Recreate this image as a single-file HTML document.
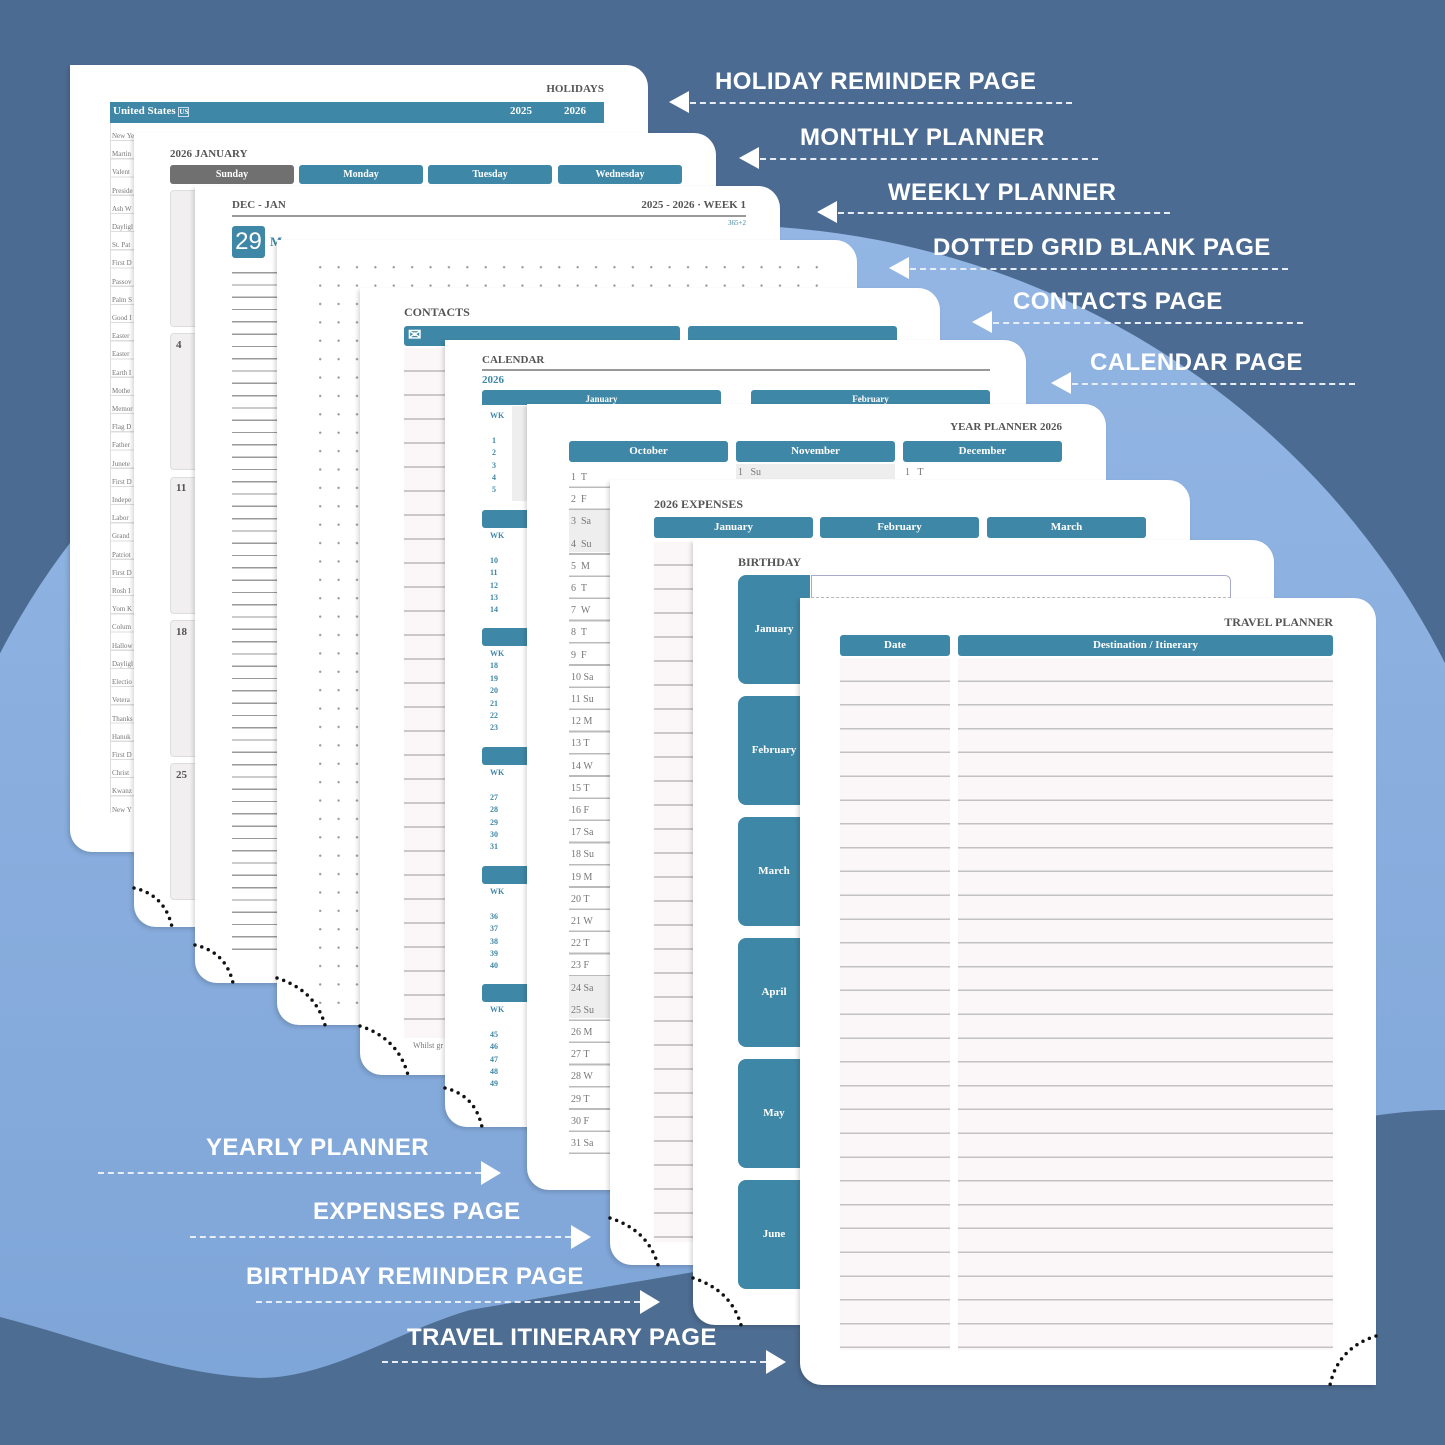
<!DOCTYPE html>
<html><head><meta charset="utf-8"><style>
*{margin:0;padding:0;box-sizing:border-box}
body{width:1445px;height:1445px;overflow:hidden;position:relative;background:#4c6b92;font-family:"Liberation Serif",serif}
.abs{position:absolute}
.pg{position:absolute;background:#fff;border-radius:0 22px 0 22px;overflow:hidden;box-shadow:-2px 2px 4px rgba(0,0,0,.15)}
.t{position:absolute;font-weight:bold;color:#555;font-size:12px;white-space:nowrap}
.bar{position:absolute;background:#3f87a6;color:#fff;font-weight:bold;font-size:10px;text-align:center;border-radius:3px;white-space:nowrap;overflow:hidden}
.lbl{position:absolute;font-family:"Liberation Sans",sans-serif;font-weight:bold;color:#fff;font-size:24px;white-space:nowrap;letter-spacing:0.4px}
.dl{position:absolute;border-top:2px dashed #e8eef8;height:0}
.arL{position:absolute;width:0;height:0;border-top:11px solid transparent;border-bottom:11px solid transparent;border-right:20px solid #fff}
.arR{position:absolute;width:0;height:0;border-top:12px solid transparent;border-bottom:12px solid transparent;border-left:20px solid #fff}
.rules{position:absolute;background:repeating-linear-gradient(to bottom,#fbf6f7 0,#fbf6f7 22px,#c9c9c9 22px,#c9c9c9 24px)}
.sm{position:absolute;font-size:8px;color:#777;white-space:nowrap}
</style></head><body>
<svg class="abs" style="left:0;top:0" width="1445" height="1445">
<defs><linearGradient id="g" x1="0" y1="0" x2="0" y2="1"><stop offset="0" stop-color="#93b6e4"/><stop offset="1" stop-color="#78a0d4"/></linearGradient></defs>
<ellipse cx="720" cy="1000" rx="805" ry="775" fill="url(#g)"/>
<path d="M0,1317 C90,1340 170,1375 260,1378 C330,1378 400,1330 470,1310 L1000,1220 C1200,1150 1350,1110 1445,1110 L1445,1445 L0,1445 Z" fill="#4e6d92"/>
</svg>

<!-- 1 Holidays -->
<div class="pg" style="left:70px;top:65px;width:578px;height:787px">
<div class="t" style="right:44px;top:18px;font-size:11px">HOLIDAYS</div>
<div class="bar" style="left:40px;top:37px;width:494px;height:21px;text-align:left;padding:3px 3px;font-size:11px;border-radius:0">United States <span style="font-size:7px;border:1px solid #cde">US</span><span style="position:absolute;left:400px">2025</span><span style="position:absolute;left:454px">2026</span></div>
<div class="abs" style="left:40px;top:58px;width:52px;height:690px;border-left:1px solid #ddd;background:repeating-linear-gradient(to bottom,#fff 0,#fff 17px,#ddd 17px,#ddd 18.2px)"></div>
<div class="sm" style="left:42px;top:62px;line-height:18.2px;font-size:7px">New Year's Day<br>Martin<br>Valent<br>Preside<br>Ash W<br>Dayligl<br>St. Pat<br>First D<br>Passov<br>Palm S<br>Good I<br>Easter<br>Easter<br>Earth I<br>Mothe<br>Memor<br>Flag D<br>Father<br>Junete<br>First D<br>Indepe<br>Labor<br>Grand<br>Patriot<br>First D<br>Rosh I<br>Yom K<br>Colum<br>Hallow<br>Dayligl<br>Electio<br>Vetera<br>Thanks<br>Hanuk<br>First D<br>Christ<br>Kwanz<br>New Y</div>
</div>

<!-- 2 Monthly -->
<div class="pg" style="left:134px;top:133px;width:582px;height:794px">
<div class="t" style="left:36px;top:15px;font-size:11px">2026 JANUARY</div>
<div class="bar" style="left:36px;top:32px;width:124px;height:19px;line-height:19px;background:#707070">Sunday</div>
<div class="bar" style="left:165px;top:32px;width:124px;height:19px;line-height:19px">Monday</div>
<div class="bar" style="left:294px;top:32px;width:124px;height:19px;line-height:19px">Tuesday</div>
<div class="bar" style="left:424px;top:32px;width:124px;height:19px;line-height:19px">Wednesday</div>
<div class="abs" style="left:36px;top:57px;width:30px;height:137px;background:#f1eff0;border:1px solid #ddd;border-radius:4px"></div>
<div class="abs" style="left:36px;top:200px;width:30px;height:137px;background:#f1eff0;border:1px solid #ddd;border-radius:4px"></div>
<div class="abs" style="left:36px;top:344px;width:30px;height:137px;background:#f1eff0;border:1px solid #ddd;border-radius:4px"></div>
<div class="abs" style="left:36px;top:487px;width:30px;height:137px;background:#f1eff0;border:1px solid #ddd;border-radius:4px"></div>
<div class="abs" style="left:36px;top:630px;width:30px;height:137px;background:#f1eff0;border:1px solid #ddd;border-radius:4px"></div>
<div class="t" style="left:42px;top:206px;font-size:11px">4</div>
<div class="t" style="left:42px;top:349px;font-size:11px">11</div>
<div class="t" style="left:42px;top:493px;font-size:11px">18</div>
<div class="t" style="left:42px;top:636px;font-size:11px">25</div>
</div>

<!-- 3 Weekly -->
<div class="pg" style="left:195px;top:186px;width:585px;height:797px">
<div class="t" style="left:37px;top:13px;font-size:11px">DEC - JAN</div>
<div class="t" style="right:34px;top:13px;font-size:11px">2025 - 2026 · WEEK 1</div>
<div class="abs" style="left:37px;top:29px;width:514px;height:2px;background:#999"></div>
<div class="sm" style="right:34px;top:33px;color:#3f87a6;font-size:7px">365+2</div>
<div class="bar" style="left:37px;top:40px;width:33px;height:32px;line-height:32px;font-size:24px;font-weight:normal;font-family:'Liberation Sans',sans-serif">29</div>
<div class="bar" style="left:37px;top:225px;width:33px;height:32px;line-height:32px;font-size:24px;font-weight:normal;font-family:'Liberation Sans',sans-serif">30</div>
<div class="bar" style="left:37px;top:411px;width:33px;height:32px;line-height:32px;font-size:24px;font-weight:normal;font-family:'Liberation Sans',sans-serif">31</div>
<div class="bar" style="left:37px;top:596px;width:33px;height:32px;line-height:32px;font-size:24px;font-weight:normal;font-family:'Liberation Sans',sans-serif">1</div>
<div class="t" style="left:75px;top:48px;color:#3f87a6;font-size:13px">M</div>
<div class="t" style="left:75px;top:233px;color:#3f87a6;font-size:13px">T</div>
<div class="t" style="left:75px;top:419px;color:#3f87a6;font-size:13px">W</div>
<div class="t" style="left:75px;top:604px;color:#3f87a6;font-size:13px">T</div>
<div class="abs" style="left:37px;top:75px;width:45px;height:700px;background:repeating-linear-gradient(to bottom,#fff 0,#fff 11px,#9a9a9a 11px,#9a9a9a 12.3px)"></div>
</div>

<!-- 4 Dotted -->
<div class="pg" style="left:277px;top:240px;width:580px;height:785px">
<div class="abs" style="left:34px;top:18px;width:520px;height:750px;background:radial-gradient(circle,#9a9a9a 1px,transparent 1.3px) 0 0/18.4px 18.4px"></div>
</div>

<!-- 5 Contacts -->
<div class="pg" style="left:360px;top:288px;width:580px;height:787px">
<div class="t" style="left:44px;top:17px;font-size:12px">CONTACTS</div>
<div class="bar" style="left:44px;top:38px;width:276px;height:20px;text-align:left;padding-left:4px;font-size:16px;line-height:20px">✉</div>
<div class="bar" style="left:328px;top:38px;width:209px;height:20px"></div>
<div class="rules" style="left:44px;top:60px;width:42px;height:690px"></div>
<div class="sm" style="left:53px;top:753px">Whilst gr</div>
</div>

<!-- 6 Calendar -->
<div class="pg" style="left:445px;top:340px;width:581px;height:787px">
<div class="t" style="left:37px;top:14px;font-size:11px">CALENDAR</div>
<div class="abs" style="left:37px;top:29px;width:508px;height:2px;background:#999"></div>
<div class="t" style="left:37px;top:34px;color:#3f87a6;font-size:11px">2026</div>
<div class="bar" style="left:37px;top:50px;width:239px;height:15px;line-height:18px;font-size:9px;border-radius:3px 3px 0 0">January</div>
<div class="bar" style="left:306px;top:50px;width:239px;height:15px;line-height:18px;font-size:9px;border-radius:3px 3px 0 0">February</div>
<div class="abs" style="left:37px;top:66px;width:45px;height:95px;background:linear-gradient(to right,#fff 30px,#eee 30px)"></div>
<div class="sm" style="left:45px;top:70px;color:#3f87a6;font-weight:bold;line-height:12.4px">WK<br><br>&nbsp;1<br>&nbsp;2<br>&nbsp;3<br>&nbsp;4<br>&nbsp;5</div>
<div class="bar" style="left:37px;top:170px;width:50px;height:18px"></div>
<div class="sm" style="left:45px;top:190px;color:#3f87a6;font-weight:bold;line-height:12.4px">WK<br><br>10<br>11<br>12<br>13<br>14</div>
<div class="bar" style="left:37px;top:288px;width:50px;height:18px"></div>
<div class="sm" style="left:45px;top:308px;color:#3f87a6;font-weight:bold;line-height:12.4px">WK<br>18<br>19<br>20<br>21<br>22<br>23</div>
<div class="bar" style="left:37px;top:407px;width:50px;height:18px"></div>
<div class="sm" style="left:45px;top:427px;color:#3f87a6;font-weight:bold;line-height:12.4px">WK<br><br>27<br>28<br>29<br>30<br>31</div>
<div class="bar" style="left:37px;top:526px;width:50px;height:18px"></div>
<div class="sm" style="left:45px;top:546px;color:#3f87a6;font-weight:bold;line-height:12.4px">WK<br><br>36<br>37<br>38<br>39<br>40</div>
<div class="bar" style="left:37px;top:644px;width:50px;height:18px"></div>
<div class="sm" style="left:45px;top:664px;color:#3f87a6;font-weight:bold;line-height:12.4px">WK<br><br>45<br>46<br>47<br>48<br>49</div>
</div>

<!-- 7 Year planner -->
<div class="pg" style="left:527px;top:404px;width:579px;height:786px">
<div class="t" style="right:44px;top:17px;font-size:11px">YEAR PLANNER 2026</div>
<div class="bar" style="left:42px;top:37px;width:159px;height:21px;line-height:21px;font-size:11px">October</div>
<div class="bar" style="left:209px;top:37px;width:159px;height:21px;line-height:21px;font-size:11px">November</div>
<div class="bar" style="left:376px;top:37px;width:159px;height:21px;line-height:21px;font-size:11px">December</div>
<div class="abs" style="left:209px;top:60px;width:159px;height:15px;background:#eee"></div>
<div class="sm" style="left:211px;top:63px;font-size:10px">1&nbsp;&nbsp; Su</div>
<div class="sm" style="left:378px;top:63px;font-size:10px">1&nbsp;&nbsp; T</div>
<div class="abs" style="left:42px;top:62px;width:41px;height:690px;background:repeating-linear-gradient(to bottom,#fff 0,#fff 20.5px,#bbb 20.5px,#bbb 22.2px)"></div>
<div class="abs" style="left:42px;top:106px;width:41px;height:42px;background:#eee"></div>
<div class="abs" style="left:42px;top:572px;width:41px;height:42px;background:#eee"></div>
<div class="sm" style="left:44px;top:63px;font-size:10px;line-height:22.2px">1&nbsp; T<br>2&nbsp; F<br>3&nbsp; Sa<br>4&nbsp; Su<br>5&nbsp; M<br>6&nbsp; T<br>7&nbsp; W<br>8&nbsp; T<br>9&nbsp; F<br>10 Sa<br>11 Su<br>12 M<br>13 T<br>14 W<br>15 T<br>16 F<br>17 Sa<br>18 Su<br>19 M<br>20 T<br>21 W<br>22 T<br>23 F<br>24 Sa<br>25 Su<br>26 M<br>27 T<br>28 W<br>29 T<br>30 F<br>31 Sa</div>
</div>

<!-- 8 Expenses -->
<div class="pg" style="left:610px;top:480px;width:580px;height:785px">
<div class="t" style="left:44px;top:17px;font-size:12px">2026 EXPENSES</div>
<div class="bar" style="left:44px;top:37px;width:159px;height:21px;line-height:21px;font-size:11px">January</div>
<div class="bar" style="left:210px;top:37px;width:159px;height:21px;line-height:21px;font-size:11px">February</div>
<div class="bar" style="left:377px;top:37px;width:159px;height:21px;line-height:21px;font-size:11px">March</div>
<div class="rules" style="left:44px;top:62px;width:40px;height:700px"></div>
</div>

<!-- 9 Birthday -->
<div class="pg" style="left:693px;top:540px;width:581px;height:785px">
<div class="t" style="left:45px;top:15px;font-size:12px">BIRTHDAY</div>
<div class="abs" style="left:118px;top:35px;width:420px;height:23px;border:1px solid #aac;border-radius:0 6px 0 0;border-bottom:1px dashed #bbb"></div>
<div class="bar" style="left:45px;top:35px;width:72px;height:109px;line-height:109px;font-size:11px;border-radius:8px 0 0 8px">January</div>
<div class="bar" style="left:45px;top:156px;width:72px;height:109px;line-height:109px;font-size:11px;border-radius:8px 0 0 8px">February</div>
<div class="bar" style="left:45px;top:277px;width:72px;height:109px;line-height:109px;font-size:11px;border-radius:8px 0 0 8px">March</div>
<div class="bar" style="left:45px;top:398px;width:72px;height:109px;line-height:109px;font-size:11px;border-radius:8px 0 0 8px">April</div>
<div class="bar" style="left:45px;top:519px;width:72px;height:109px;line-height:109px;font-size:11px;border-radius:8px 0 0 8px">May</div>
<div class="bar" style="left:45px;top:640px;width:72px;height:109px;line-height:109px;font-size:11px;border-radius:8px 0 0 8px">June</div>
</div>

<!-- 10 Travel -->
<div class="pg" style="left:800px;top:598px;width:576px;height:787px">
<div class="t" style="right:43px;top:17px;font-size:12px">TRAVEL PLANNER</div>
<div class="bar" style="left:40px;top:37px;width:110px;height:21px;line-height:21px;font-size:11px">Date</div>
<div class="bar" style="left:158px;top:37px;width:375px;height:21px;line-height:21px;font-size:11px">Destination / Itinerary</div>
<div class="abs" style="left:40px;top:60px;width:110px;height:692px;background:repeating-linear-gradient(to bottom,#fbf6f7 0,#fbf6f7 22.3px,#c2c2c2 22.3px,#c2c2c2 23.8px)"></div>
<div class="abs" style="left:158px;top:60px;width:375px;height:692px;background:repeating-linear-gradient(to bottom,#fbf6f7 0,#fbf6f7 22.3px,#c2c2c2 22.3px,#c2c2c2 23.8px)"></div>
</div>

<!-- dotted corner arcs -->
<svg class="abs" style="left:0;top:0" width="1445" height="1445" fill="none" stroke="#111" stroke-width="3.5" stroke-linecap="round" stroke-dasharray="0 7">
<path d="M134,888 Q165,895 172,927"/>
<path d="M195,945 Q226,952 233,983"/>
<path d="M277,978 Q315,990 325,1025"/>
<path d="M360,1026 Q398,1038 408,1075"/>
<path d="M445,1088 Q475,1095 482,1127"/>
<path d="M610,1218 Q648,1230 658,1265"/>
<path d="M693,1278 Q731,1290 741,1325"/>
<path d="M1376,1336 Q1338,1348 1330,1385"/>
</svg>

<!-- labels right -->
<div class="lbl" style="left:715px;top:68px">HOLIDAY REMINDER PAGE</div>
<div class="dl" style="left:690px;top:102px;width:382px"></div><div class="arL" style="left:669px;top:91px"></div>
<div class="lbl" style="left:800px;top:124px">MONTHLY PLANNER</div>
<div class="dl" style="left:760px;top:158px;width:338px"></div><div class="arL" style="left:739px;top:147px"></div>
<div class="lbl" style="left:888px;top:179px">WEEKLY PLANNER</div>
<div class="dl" style="left:838px;top:212px;width:332px"></div><div class="arL" style="left:817px;top:201px"></div>
<div class="lbl" style="left:933px;top:234px">DOTTED GRID BLANK PAGE</div>
<div class="dl" style="left:910px;top:268px;width:378px"></div><div class="arL" style="left:889px;top:257px"></div>
<div class="lbl" style="left:1013px;top:288px">CONTACTS PAGE</div>
<div class="dl" style="left:993px;top:322px;width:310px"></div><div class="arL" style="left:972px;top:311px"></div>
<div class="lbl" style="left:1090px;top:349px">CALENDAR PAGE</div>
<div class="dl" style="left:1072px;top:383px;width:283px"></div><div class="arL" style="left:1051px;top:372px"></div>

<!-- labels left -->
<div class="lbl" style="left:206px;top:1134px">YEARLY PLANNER</div>
<div class="dl" style="left:98px;top:1172px;width:383px"></div><div class="arR" style="left:481px;top:1161px"></div>
<div class="lbl" style="left:313px;top:1198px">EXPENSES PAGE</div>
<div class="dl" style="left:190px;top:1236px;width:381px"></div><div class="arR" style="left:571px;top:1225px"></div>
<div class="lbl" style="left:246px;top:1263px">BIRTHDAY REMINDER PAGE</div>
<div class="dl" style="left:256px;top:1301px;width:384px"></div><div class="arR" style="left:640px;top:1290px"></div>
<div class="lbl" style="left:407px;top:1324px">TRAVEL ITINERARY PAGE</div>
<div class="dl" style="left:382px;top:1361px;width:384px"></div><div class="arR" style="left:766px;top:1350px"></div>
</body></html>
